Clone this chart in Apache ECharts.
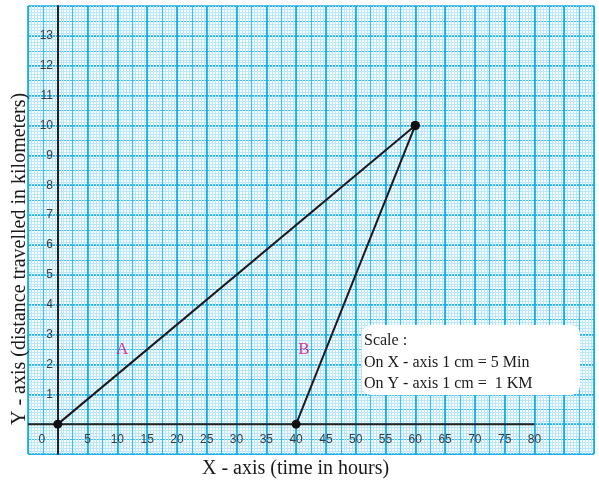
<!DOCTYPE html>
<html>
<head>
<meta charset="utf-8">
<script src="https://cdn.jsdelivr.net/npm/echarts@6/dist/echarts.min.js"></script>
<style>
  html, body { margin: 0; padding: 0; background: #fff; }
  #chart { width: 599px; height: 488px; }
</style>
</head>
<body>
<div id="chart"></div>
<script>
// data
var lineA = [[0, 0], [60, 10]];
var lineB = [[40, 0], [60, 10]];
var xAxisLine = [[-5, 0], [80, 0]];
var lineLabels = [['A', 10.8, 2.5], ['B', 41.3, 2.5]];
var xTicks = [0, 5, 10, 15, 20, 25, 30, 35, 40, 45, 50, 55, 60, 65, 70, 75, 80];
var yTicks = [1, 2, 3, 4, 5, 6, 7, 8, 9, 10, 11, 12, 13];
var scaleText = ['Scale :', 'On X - axis 1 cm = 5 Min', 'On Y - axis 1 cm =  1 KM'];

var myChart = echarts.init(document.getElementById('chart'));

var serif = '"Liberation Serif", "Times New Roman", serif';
var sans = '"Liberation Sans", Arial, sans-serif';

// graph paper: fine (1 mm), medium (5 mm), bold (1 cm)
function paperAxis(pos, min, max, interval, color, width) {
    return {
        type: 'value', position: pos, min: min, max: max, interval: interval,
        axisLine: { show: false, onZero: false }, axisTick: { show: false }, axisLabel: { show: false },
        splitLine: { show: true, lineStyle: { color: color, width: width } }
    };
}

// main axes are pulled in by one cm so they sit on the zero lines
var xMain = paperAxis('bottom', -5, 90, 5, '#16ade8', 1.7);
xMain.offset = -30;
xMain.axisLabel = {
    show: true, margin: 10, color: '#3a3a3a', fontFamily: sans, fontSize: 12,
    formatter: function (v) {
        if (xTicks.indexOf(v) < 0) return '';
        return v === 0 ? '{z|0}' : String(v);
    },
    rich: { z: { padding: [0, 32, 0, 0], color: '#3a3a3a', fontFamily: sans, fontSize: 12 } }
};

var yMain = paperAxis('left', -1, 14, 1, '#16ade8', 1.7);
yMain.offset = -30;
yMain.axisLine = { show: true, onZero: false, lineStyle: { color: '#222', width: 2 } };
yMain.axisLabel = {
    show: true, margin: 5, color: '#3a3a3a', fontFamily: sans, fontSize: 12,
    formatter: function (v) { return yTicks.indexOf(v) < 0 ? '' : String(v); }
};

var option = {
    backgroundColor: '#fff',
    animation: false,
    grid: { left: 28, right: 5, top: 6, bottom: 34, show: true, borderWidth: 0, backgroundColor: '#f7fcff' },
    xAxis: [
        paperAxis('bottom', -10, 180, 1, '#bde6f7', 1),
        paperAxis('bottom', -2, 36, 1, '#3fbdee', 1.2),
        xMain
    ],
    yAxis: [
        paperAxis('left', -10, 140, 1, '#bde6f7', 1),
        paperAxis('left', -2, 28, 1, '#3fbdee', 1.2),
        yMain
    ],
    series: [
        {
            type: 'line', xAxisIndex: 2, yAxisIndex: 2, data: xAxisLine,
            symbol: 'none', lineStyle: { color: '#222', width: 2 }, z: 3
        },
        {
            name: 'A', type: 'line', xAxisIndex: 2, yAxisIndex: 2, data: lineA,
            symbol: 'circle', symbolSize: 9, itemStyle: { color: '#111' },
            lineStyle: { color: '#1a1a1a', width: 2 }, z: 4
        },
        {
            name: 'B', type: 'line', xAxisIndex: 2, yAxisIndex: 2, data: lineB,
            symbol: 'circle', symbolSize: 9, itemStyle: { color: '#111' },
            lineStyle: { color: '#1a1a1a', width: 2 }, z: 4
        },
        {
            type: 'scatter', xAxisIndex: 2, yAxisIndex: 2, symbolSize: 0,
            data: lineLabels.map(function (d) { return { name: d[0], value: [d[1], d[2]] }; }),
            label: {
                show: true, position: 'inside', formatter: '{b}',
                color: '#e4007c', fontFamily: serif, fontSize: 17
            }
        }
    ],
    graphic: [
        {
            type: 'text', left: 202, top: 459, z: 100,
            style: { text: 'X - axis (time in hours)', font: '20px ' + serif, fill: '#1a1a1a' }
        },
        {
            type: 'text', x: 10, y: 425, rotation: Math.PI / 2, z: 100,
            style: { text: 'Y - axis (distance travelled in kilometers)', font: '20px ' + serif, fill: '#1a1a1a',
                     textAlign: 'left', textVerticalAlign: 'top' },
            originX: 0, originY: 0
        },
        {
            type: 'group', left: 362, top: 325, z: 100,
            children: [
                { type: 'rect', z: 100, shape: { x: 0, y: 0, width: 218, height: 70, r: 9 }, style: { fill: '#fff' } }
            ].concat(scaleText.map(function (t, i) {
                return {
                    type: 'text', z: 101, x: 2, y: 8 + i * 21.5,
                    style: { text: t, font: '16px ' + serif, fill: '#1a1a1a' }
                };
            }))
        }
    ]
};

myChart.setOption(option);
</script>
</body>
</html>
